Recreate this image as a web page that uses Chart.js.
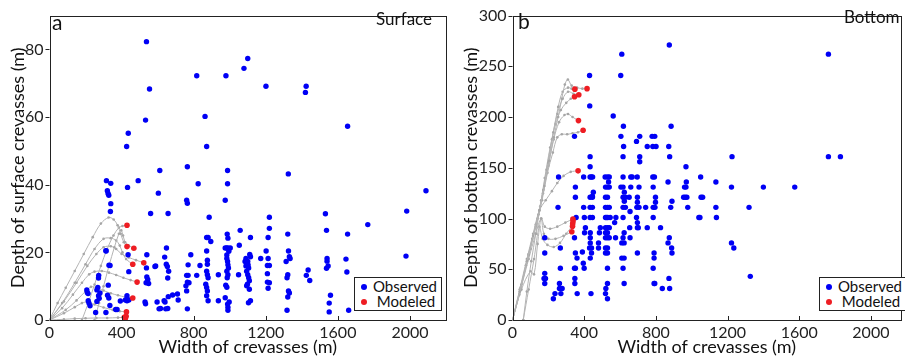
<!DOCTYPE html>
<html>
<head>
<meta charset="utf-8">
<script src="https://cdn.jsdelivr.net/npm/chart.js@4.4.1/dist/chart.umd.min.js"></script>
<style>
  body { margin: 0; background: #fff; width: 905px; height: 362px; overflow: hidden; position: relative; font-family: Lato, sans-serif; color: #111; }
  canvas { position: absolute; top: 0; }
  #surfaceChart { left: 0; }
  #bottomChart { left: 455px; }
  .txt { position: absolute; white-space: nowrap; line-height: 20px; }
  .legend { position: absolute; border: 1px solid #222; background: #fff; }
  .legend .row { position: absolute; left: 0; font-size: 15px; line-height: 16px; white-space: nowrap; }
  .legend .dot { display: inline-block; width: 6px; height: 6px; border-radius: 50%; vertical-align: middle; margin: 0 6px 3px 6px; }
</style>
</head>
<body>
<canvas id="surfaceChart" width="455" height="362"></canvas>
<canvas id="bottomChart" width="450" height="362"></canvas>

<div class="txt" style="left:52px; top:12px; font-size:21px;">a</div>
<div class="txt" style="left:376px; top:9px; font-size:17px;">Surface</div>
<div class="txt" style="left:518px; top:11px; font-size:21px;">b</div>
<div class="txt" style="left:844px; top:7px; font-size:17px;">Bottom</div>

<div class="legend" style="left:354px; top:277px; width:86px; height:32px;">
  <div class="row" style="top:0px;"><span class="dot" style="background:#0000f5"></span>Observed</div>
  <div class="row" style="top:15px;"><span class="dot" style="background:#ee1d23"></span>&nbsp;Modeled</div>
</div>
<div class="legend" style="left:819px; top:277px; width:86px; height:32px;">
  <div class="row" style="top:0px;"><span class="dot" style="background:#0000f5"></span>Observed</div>
  <div class="row" style="top:15px;"><span class="dot" style="background:#ee1d23"></span>&nbsp;Modeled</div>
</div>

<script>
// tick labels
const widthTicks = [0, 400, 800, 1200, 1600, 2000];
const surfaceDepthTicks = [0, 20, 40, 60, 80];
const bottomDepthTicks = [0, 50, 100, 150, 200, 250, 300];

// panel a: surface crevasses, [width m, depth m]
const surfaceObserved = [
  [538,82.3],[555,68.3],[533,59.1],[437,55.2],[428,51.3],[433,39.2],[492,41.2],
  [316,41.2],[340,40.4],[321,38.2],[325,37.4],[329,36.9],[340,34.4],[338,32.1],
  [561,31.5],[658,31.5],[604,37.5],[612,44.2],[765,45.3],[825,40.3],[761,35.4],[765,34.5],
  [975,35.4],[988,40.3],[988,44.2],[886,30.4],[817,72.2],[979,72.2],[1079,74.4],[1100,77.3],
  [1201,69.1],[1424,69.1],[1420,67.3],[863,60.2],[872,51.3],[1654,57.3],[1325,43.2],
  [1220,30.4],[1220,27.1],[1531,31.4],[1537,26.5],[1766,28.2],[1982,32.2],[2089,38.2],
  [1654,25.4],[1058,26.5],[1322,25.4],[986,25.4],
  [872,24.4],[880,24.4],[895,23.2],[990,24.2],[1115,24.4],[1213,24.4],[1053,22.1],
  [784,19.3],[872,20.4],[975,21.3],[983,21.3],[990,21.3],[1003,21.3],[1111,19.4],[1115,18.7],[1202,20.4],[1326,20.4],
  [649,21.3],[540,19.3],[314,20.4],[436,19.3],[639,18.6],[1978,18.9],
  [769,16.3],[835,16.1],[876,17.7],[876,16.5],[984,18.2],[988,17.3],[990,16.3],[993,15.4],[984,19.2],[995,20.3],
  [1090,18.2],[1100,17.3],[1102,16.3],[1105,15.4],[1085,17.3],[1090,16.0],[1172,18.2],[1213,18.2],[1209,16.1],[1220,16.1],
  [1313,17.3],[1331,18.7],[1335,18.2],[1540,18.2],[1540,17.4],[1546,16.0],[1537,15.3],[1645,18.0],[1650,14.2],
  [589,16.0],[648,16.5],[654,15.8],[661,14.4],[585,15.8],[336,16.1],[440,14.3],[538,15.4],
  [761,13.2],[769,13.2],[817,13.2],[872,14.4],[876,13.4],[880,12.5],[937,13.4],[984,14.4],[990,13.4],[986,12.5],
  [1049,13.4],[1094,14.4],[1100,13.4],[1105,12.5],[1109,11.6],[1209,13.7],[1322,13.4],[1318,12.5],[1425,13.2],[1444,11.7],[1435,14.8],
  [765,11.2],[774,11.0],[757,10.1],[867,10.6],[872,9.6],[876,8.6],[978,10.3],[984,9.7],[1098,10.6],[1094,10.1],[1109,9.1],
  [1209,11.2],[1220,11.0],[1213,9.4],[1326,8.6],[1331,8.0],
  [540,12.7],[545,12.0],[550,10.8],[536,11.0],[656,12.4],[272,12.4],[326,10.3],
  [761,8.6],[872,7.2],[880,5.7],[937,5.7],[975,6.6],[988,4.7],[997,5.3],[1115,5.7],[1104,5.1],[1322,6.8],
  [765,3.3],[990,3.8],[990,2.9],[1318,2.9],[1559,7.3],[1552,5.0],[1552,2.4],[1660,2.9],
  [683,7.4],[710,7.7],[714,5.9],[597,5.3],[608,3.3],[636,5.7],[659,6.9],[645,3.3],[656,3.4],[641,5.3],[616,3.4],
  [530,5.3],[533,4.8],
  [430,7.2],[430,5.7],[421,5.9],[440,5.9],[393,5.6],[375,3.1],[367,3.1],
  [322,7.3],[329,6.5],[335,4.3],[313,2.2],[256,2.2],[263,5.5],
  [207,8.9],[214,7.8],[210,8.1],[215,5.7],[219,5.0],[225,4.2],[268,9.6],[263,8.9],[272,7.2],[280,8.0],[276,6.4],[273,13.2],[313,20.5],[330,16.2]
];
const surfaceModeled = [
  [430,28.0],[430,21.7],[468,21.2],[462,16.5],[523,16.9],[486,11.2],[462,6.5],[427,2.4],[415,0.8],[421,0.5],[425,1.1]
];
const surfaceTracks = [
  [[0,0],[45,5],[90,9.5],[140,14.5],[190,19.5],[240,24.5],[285,28.5],[328,30.3],[356,29.7],[378,28],[395,25.5],[412,23],[430,21.7]],
  [[180,0],[215,5],[250,10.5],[285,16],[320,21],[355,25],[385,27.3],[405,27.8],[430,28]],
  [[250,0],[275,5],[300,10],[330,16],[360,21.5],[385,25.5],[398,26.5],[408,25],[420,23],[440,22],[468,21.2]],
  [[0,0],[70,5],[140,11],[200,16.5],[250,21],[300,24],[340,24.2],[370,23.5],[390,22],[405,20],[425,18],[462,16.5]],
  [[0,0],[80,5.5],[150,11],[210,16],[260,19.5],[300,21.5],[340,21.8],[370,21],[400,19.5],[440,18.5],[480,17.7],[523,16.9]],
  [[0,0],[70,3.5],[130,7.5],[180,11],[220,13.5],[250,14.3],[290,14.5],[330,14],[370,13.3],[410,12.5],[450,11.8],[486,11.2]],
  [[0,0],[90,3],[150,5.8],[200,8.5],[230,9.8],[260,9.5],[300,8.7],[340,7.9],[380,7.3],[420,6.8],[462,6.5]],
  [[0,0],[80,2],[140,3.8],[180,5],[210,5.3],[250,4.6],[300,3.7],[350,3],[390,2.6],[427,2.4]],
  [[0,0],[80,0.2],[140,0.4],[200,0.5],[260,0.6],[320,0.6],[380,0.7],[415,0.8]]
];

// panel b: bottom crevasses, [width m, depth m]
const bottomObserved = [
  [180,81],[180,66],[180,46],[176,41],[184,41],[180,36],
  [228,21],[237,26],
  [257,141],[254,111],[267,71],[267,51],[262,36],[262,31],[277,31],[270,26],
  [346,181],[351,131],[351,121],[355,101],[346,81],[351,66],[360,61],[346,51],[351,51],[348,41],[348,36],[361,26],
  [397,141],[397,111],[401,101],[407,91],[402,86],[390,67],[395,56],[400,51],
  [430,241],[431,211],[433,161],[433,151],[433,141],[440,141],[447,141],[451,126],[446,122],[433,121],[446,121],
  [433,111],[446,111],[433,101],[446,101],[434,86],[434,81],[434,76],[441,71],[430,71],[441,66],[434,61],[438,26],
  [480,76],[480,71],[485,86],[490,91],
  [517,141],[530,141],[540,141],[536,136],[519,131],[530,131],[540,131],[519,121],[530,121],[519,111],[530,111],[540,111],
  [519,101],[525,101],[532,101],[545,101],[519,91],[530,91],[540,91],[519,86],[530,86],[519,81],[530,81],[540,81],
  [519,71],[530,71],[519,66],[530,66],[530,51],[530,36],[521,31],[519,26],[530,21],
  [562,201],[577,101],[570,96],[575,81],
  [604,241],[610,262],[619,191],[605,181],[620,171],[617,161],[617,141],[660,141],[668,141],[605,131],[617,131],[660,131],
  [624,126],[617,121],[630,121],[651,121],[624,117],[617,111],[630,111],[656,107],[617,101],[623,86],[656,81],[617,81],
  [610,76],[623,76],[610,61],[623,61],[617,51],[623,36],[654,91],
  [692,176],[710,181],[710,161],[710,156],[696,141],[706,131],[697,121],[697,116],[694,111],[706,111],[692,101],[697,96],[697,91],[702,91],[697,66],
  [743,111],[752,171],[752,91],
  [779,181],[794,181],[783,171],[801,171],[783,141],[792,141],[785,131],[798,121],[798,116],[785,111],[795,111],[785,101],
  [790,66],[790,61],[785,51],[790,36],[794,36],
  [826,91],[836,31],
  [872,171],[877,161],[885,191],[875,271],[868,136],[890,117],[883,111],[875,81],[868,76],[888,71],[890,66],[873,41],[877,31],
  [955,121],[960,131],[968,131],[968,151],[970,136],[973,121],[978,111],[964,121],
  [1040,101],[1046,101],[1050,141],[1052,121],[1061,121],
  [1135,136],[1135,111],[1138,101],
  [1225,161],[1222,131],[1222,76],[1235,71],
  [1320,111],[1327,43],
  [1400,131],[1575,131],
  [1763,262],[1763,161],[1830,161]
];
const bottomModeled = [
  [348,227.5],[416,228],[346,220],[370,222],[368,196.5],[394,187],[366,147],[337,99.5],[338,97.5],[336,95],[335,92.5],[331,87]
];
const bottomTracks = [
  [[0,0],[40,28],[80,58],[115,83],[150,108],[178,132],[205,157],[230,180],[255,200],[275,218],[292,232],[309,237],[330,231],[360,229],[390,228],[416,228]],
  [[0,0],[38,25],[75,54],[110,80],[145,104],[172,128],[200,155],[228,185],[255,210],[280,225],[310,229],[330,228],[348,227.5]],
  [[0,0],[45,30],[90,64],[130,94],[160,118],[190,148],[220,178],[250,203],[280,218],[310,225],[340,223],[370,222]],
  [[60,0],[80,28],[105,58],[130,85],[155,112],[180,140],[210,170],[240,193],[270,207],[300,214],[325,218],[346,220]],
  [[0,0],[50,35],[100,70],[140,100],[170,125],[200,152],[230,178],[260,195],[290,202],[310,203],[335,200],[368,196.5]],
  [[0,0],[45,32],[90,65],[130,92],[165,118],[195,145],[225,165],[250,180],[275,183],[305,183],[335,184],[365,185],[394,187]],
  [[0,0],[40,30],[80,60],[115,85],[150,108],[185,118],[220,127],[250,135],[285,142],[325,146],[366,147]],
  [[0,0],[45,30],[90,60],[130,85],[160,100],[180,92],[210,90],[250,92],[295,96],[337,99.5]],
  [[0,0],[50,30],[100,48],[120,45],[140,75],[160,100],[175,85],[200,80],[240,80],[285,83],[331,87]],
  [[60,0],[90,30],[120,60],[150,92],[168,80],[195,74],[230,72],[265,76],[300,85],[335,93]]
];

const toPts = arr => arr.map(p => ({ x: p[0], y: p[1] }));

// box around the plot area plus small tick marks
const framePlugin = {
  id: 'frame',
  afterDraw(chart) {
    const { ctx, chartArea: a, scales } = chart;
    ctx.save();
    ctx.strokeStyle = '#222';
    ctx.lineWidth = 1;
    ctx.strokeRect(Math.round(a.left) + 0.5, Math.round(a.top) + 0.5, Math.round(a.right - a.left) - 1, Math.round(a.bottom - a.top));
    ctx.beginPath();
    scales.x.ticks.forEach(t => {
      const px = Math.round(scales.x.getPixelForValue(t.value)) + 0.5;
      ctx.moveTo(px, a.bottom);
      ctx.lineTo(px, a.bottom - 4);
    });
    scales.y.ticks.forEach(t => {
      const py = Math.round(scales.y.getPixelForValue(t.value)) + 0.5;
      ctx.moveTo(a.left, py);
      ctx.lineTo(a.left - 4, py);
    });
    ctx.stroke();
    ctx.restore();
  }
};

function buildChart(id, cfg) {
  const trackSets = cfg.tracks.map(tr => ({
    data: toPts(tr),
    showLine: true,
    borderColor: '#b4b4b4',
    borderWidth: 1,
    backgroundColor: '#a6a6a6',
    pointRadius: 1.3,
    pointBorderWidth: 0,
    tension: 0.35
  }));

  return new Chart(document.getElementById(id), {
    type: 'scatter',
    data: {
      datasets: [
        { label: 'Modeled', data: toPts(cfg.modeled), backgroundColor: '#ee1d23', pointRadius: 2.8, pointBorderWidth: 0 },
        { label: 'Observed', data: toPts(cfg.observed), backgroundColor: '#0000f5', pointRadius: 2.7, pointBorderWidth: 0 },
        ...trackSets
      ]
    },
    options: {
      responsive: false,
      animation: false,
      events: [],
      layout: { padding: { top: 6, right: cfg.padRight, left: 0, bottom: 0 } },
      plugins: { legend: { display: false }, tooltip: { enabled: false } },
      scales: {
        x: {
          type: 'linear', min: 0, max: cfg.xMax,
          grid: { display: false, drawTicks: false },
          border: { display: false },
          afterBuildTicks: s => { s.ticks = widthTicks.map(v => ({ value: v })); },
          afterFit: s => { s.height = 42; },
          ticks: { font: { family: 'Lato', size: 16 }, color: '#222', padding: 3, maxRotation: 0, autoSkip: false,
                   callback: v => String(v) },
          title: { display: true, text: 'Width of crevasses (m)', color: '#111',
                   font: { family: 'Lato', size: 18 }, padding: { top: 0, bottom: 4 } }
        },
        y: {
          type: 'linear', min: 0, max: cfg.yMax,
          grid: { display: false, drawTicks: false },
          border: { display: false },
          afterBuildTicks: s => { s.ticks = cfg.yTicks.map(v => ({ value: v })); },
          afterFit: s => { s.width = cfg.yWidth; },
          ticks: { font: { family: 'Lato', size: 16 }, color: '#222', padding: 6, autoSkip: false,
                   callback: v => String(v) },
          title: { display: true, text: cfg.yTitle, color: '#111',
                   font: { family: 'Lato', size: 18 }, padding: { top: cfg.yTitlePad, bottom: 0 } }
        }
      }
    },
    plugins: [framePlugin]
  });
}

buildChart('surfaceChart', {
  observed: surfaceObserved, modeled: surfaceModeled, tracks: surfaceTracks,
  xMax: 2200, yMax: 90, yTicks: surfaceDepthTicks,
  yTitle: 'Depth of surface crevasses (m)', yWidth: 49.5, yTitlePad: 7.5, padRight: 9
});

buildChart('bottomChart', {
  observed: bottomObserved, modeled: bottomModeled, tracks: bottomTracks,
  xMax: 2168, yMax: 300, yTicks: bottomDepthTicks,
  yTitle: 'Depth of bottom crevasses (m)', yWidth: 57.5, yTitlePad: 5, padRight: 1
});
</script>
</body>
</html>
